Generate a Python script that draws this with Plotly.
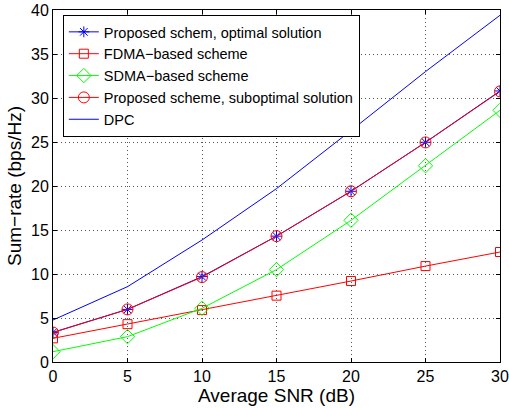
import plotly.graph_objects as go

snr = [0, 5, 10, 15, 20, 25, 30]
optimal = [3.37, 5.98, 9.7, 14.3, 19.4, 24.97, 30.8]
fdma = [2.69, 4.3, 5.9, 7.54, 9.2, 10.9, 12.5]
sdma = [1.17, 2.88, 6.1, 10.5, 16.1, 22.3, 28.6]
subopt = [3.35, 5.98, 9.65, 14.3, 19.4, 24.95, 30.75]
dpc = [4.77, 8.56, 13.86, 19.7, 26.3, 33.0, 39.4]
xticks = [0, 5, 10, 15, 20, 25, 30]
yticks = [0, 5, 10, 15, 20, 25, 30, 35, 40]

font = "Liberation Sans, Arial, Helvetica, sans-serif"

fig = go.Figure()
fig.add_trace(go.Scatter(x=snr, y=optimal, mode="lines+markers", name="Proposed schem, optimal solution",
                         line=dict(color="#0000ff", width=1),
                         marker=dict(symbol="asterisk-open", size=9, color="#0000ff", line=dict(color="#0000ff", width=1))))
fig.add_trace(go.Scatter(x=snr, y=fdma, mode="lines+markers", name="FDMA\u2212based scheme",
                         line=dict(color="#ff0000", width=1),
                         marker=dict(symbol="square-open", size=9, color="#ff0000", line=dict(color="#ff0000", width=1))))
fig.add_trace(go.Scatter(x=snr, y=sdma, mode="lines+markers", name="SDMA\u2212based scheme",
                         line=dict(color="#00ff00", width=1),
                         marker=dict(symbol="diamond-open", size=11, color="#00ff00", line=dict(color="#00ff00", width=1))))
fig.add_trace(go.Scatter(x=snr, y=subopt, mode="lines+markers", name="Proposed scheme, suboptimal solution",
                         line=dict(color="#ff0000", width=1),
                         marker=dict(symbol="circle-open", size=11, color="#ff0000", line=dict(color="#ff0000", width=1))))
fig.add_trace(go.Scatter(x=snr, y=dpc, mode="lines", name="DPC",
                         line=dict(color="#0000ff", width=1)))

axis_common = dict(showline=True, linecolor="black", linewidth=1, mirror="allticks",
                   ticks="inside", ticklen=4, tickcolor="black", automargin=False,
                   showgrid=True, gridcolor="#555555", griddash="1px,3px", gridwidth=1,
                   zeroline=False, tickfont=dict(family=font, size=16, color="black"))

fig.update_xaxes(range=[0, 30], tickvals=xticks, **axis_common,
                 title=dict(text="Average SNR (dB)", font=dict(family=font, size=19, color="black"), standoff=0))
fig.update_yaxes(range=[0, 40], tickvals=yticks, **axis_common,
                 title=dict(text="Sum\u2212rate (bps/Hz)", font=dict(family=font, size=19, color="black"), standoff=4))

fig.update_layout(
    width=509, height=408,
    margin=dict(l=53, r=9, t=10, b=46),
    paper_bgcolor="white", plot_bgcolor="white",
    font=dict(family=font, color="black"),
    legend=dict(x=0.022, y=0.986, xanchor="left", yanchor="top",
                bgcolor="white", bordercolor="black", borderwidth=1,
                font=dict(family=font, size=14.5, color="black"),
                tracegroupgap=0, itemwidth=30),
    showlegend=True,
)

fig.write_html("out.html", config={"displayModeBar": False},
               post_script="document.body.style.margin='0';document.body.style.overflow='hidden';")
